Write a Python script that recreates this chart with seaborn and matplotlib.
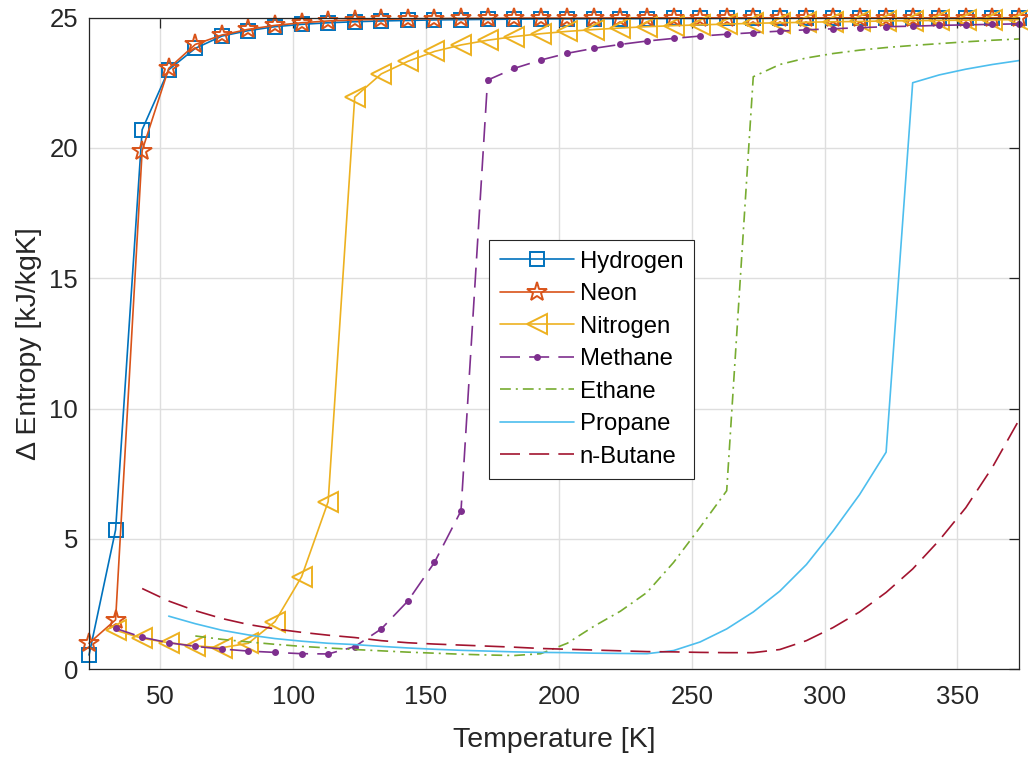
import matplotlib
matplotlib.use("Agg")
import matplotlib.pyplot as plt
import seaborn as sns

# ---------------- data ----------------
temperature = [23.15, 33.15, 43.15, 53.15, 63.15, 73.15, 83.15, 93.15, 103.15, 113.15,
               123.15, 133.15, 143.15, 153.15, 163.15, 173.15, 183.15, 193.15, 203.15, 213.15,
               223.15, 233.15, 243.15, 253.15, 263.15, 273.15, 283.15, 293.15, 303.15, 313.15,
               323.15, 333.15, 343.15, 353.15, 363.15, 373.15]

hydrogen = [0.55, 5.35, 20.7, 23.0, 23.82, 24.29, 24.5, 24.65, 24.74, 24.8,
            24.84, 24.87, 24.89, 24.91, 24.92, 24.93, 24.94, 24.95, 24.95, 24.96,
            24.96, 24.96, 24.97, 24.97, 24.97, 24.97, 24.98, 24.98, 24.98, 24.98,
            24.98, 24.98, 24.99, 24.99, 24.99, 24.99]
neon = [1.0, 1.9, 19.9, 23.05, 23.97, 24.33, 24.55, 24.7, 24.8, 24.87,
        24.91, 24.93, 24.95, 24.96, 24.97, 24.97, 24.98, 24.98, 24.98, 24.98,
        24.99, 24.99, 24.99, 24.99, 24.99, 24.99, 24.99, 24.99, 24.99, 24.99,
        24.99, 24.99, 24.99, 24.99, 24.99, 24.99]
nitrogen = [1.5, 1.19, 1.02, 0.9, 0.83, 1.0, 1.83, 3.55, 6.43,
            21.95, 22.84, 23.32, 23.7, 23.95, 24.13, 24.27, 24.38, 24.47, 24.54,
            24.6, 24.65, 24.69, 24.72, 24.75, 24.78, 24.8, 24.82, 24.84, 24.85,
            24.87, 24.88, 24.89, 24.9, 24.91, 24.92]
methane = [1.57, 1.23, 1.02, 0.88, 0.78, 0.70, 0.65, 0.6, 0.59,
           0.87, 1.55, 2.62, 4.1, 6.08,
           22.6, 23.05, 23.37, 23.63, 23.82, 23.97, 24.1, 24.2, 24.29, 24.36,
           24.42, 24.48, 24.53, 24.57, 24.61, 24.65, 24.67, 24.7, 24.72, 24.74, 24.76]
ethane = [1.28, 1.15, 1.05, 0.96, 0.88, 0.82, 0.76, 0.71, 0.66, 0.62,
          0.58, 0.55, 0.53, 0.6, 1.0, 1.65, 2.23, 2.95, 4.1, 5.45, 6.85,
          22.73, 23.2, 23.45, 23.62, 23.75, 23.85, 23.93, 24.0, 24.07, 24.13, 24.18]
propane = [2.04, 1.75, 1.5, 1.32, 1.18, 1.08, 1.0, 0.95, 0.88, 0.82,
           0.77, 0.73, 0.70, 0.67, 0.65, 0.64, 0.62, 0.61, 0.6,
           0.72, 1.05, 1.55, 2.2, 3.0, 4.02, 5.3, 6.7, 8.33,
           22.5, 22.8, 23.02, 23.2, 23.35]
butane = [3.1, 2.62, 2.25, 1.95, 1.72, 1.55, 1.42, 1.31, 1.22, 1.1,
          1.02, 0.97, 0.93, 0.89, 0.85, 0.8, 0.77, 0.74, 0.71, 0.68,
          0.67, 0.65, 0.64, 0.64, 0.76, 1.1, 1.6, 2.2, 2.95, 3.85,
          4.95, 6.2, 7.75, 9.56]

names = ["Hydrogen", "Neon", "Nitrogen", "Methane", "Ethane", "Propane", "n-Butane"]
x_ticks = [50, 100, 150, 200, 250, 300, 350]
y_ticks = [0, 5, 10, 15, 20, 25]

# ---------------- style ----------------
sns.set_style("white")
plt.rcParams["font.family"] = ["Liberation Sans", "DejaVu Sans"]
TXT = "#262626"

colors = ["#0072BD", "#D95319", "#EDB120", "#7E2F8E", "#77AC30", "#4DBEEE", "#A2142F"]
dash = (0, (12, 5.5))
dashdot = (0, (6.5, 3, 1.2, 3))
styles = [
    dict(linestyle="-", marker="s", markersize=9.5, markerfacecolor="none"),
    dict(linestyle="-", marker="*", markersize=15, markerfacecolor="none"),
    dict(linestyle="-", marker="<", markersize=14, markerfacecolor="none"),
    dict(linestyle=dash, marker="o", markersize=3.6),
    dict(linestyle=dashdot),
    dict(linestyle="-"),
    dict(linestyle=dash),
]
series = [hydrogen, neon, nitrogen, methane, ethane, propane, butane]

fig = plt.figure(figsize=(10.28, 7.57), dpi=100)
ax = fig.add_axes([0.0866, 0.1158, 0.9046, 0.861])

for name, vals, col, st in zip(names, series, colors, styles):
    xs = temperature[len(temperature) - len(vals):]
    kw = dict(st)
    if "marker" in kw:
        kw["markeredgecolor"] = col
        kw["markeredgewidth"] = 1.4
        if kw.get("markerfacecolor") != "none":
            kw["markerfacecolor"] = col
    sns.lineplot(x=xs, y=vals, ax=ax, color=col, linewidth=1.2, label=name,
                 sort=False, errorbar=None, clip_on=False, **kw)

ax.set_xlim(23.15, 373.15)
ax.set_ylim(0, 25)
ax.set_xticks(x_ticks)
ax.set_yticks(y_ticks)
ax.grid(True, color="#DEDEDE", linewidth=1.0)
ax.set_axisbelow(True)
for sp in ax.spines.values():
    sp.set_color(TXT)
    sp.set_linewidth(0.9)
    sp.set_visible(True)
ax.tick_params(axis="both", direction="in", length=7, width=0.9, color=TXT,
               labelcolor=TXT, labelsize=18.5, top=True, right=True)
ax.tick_params(axis="x", pad=11)
ax.tick_params(axis="y", pad=8)

ax.set_xlabel("Temperature [K]", fontsize=20.5, color=TXT, labelpad=13)
ax.set_ylabel("\u0394 Entropy [kJ/kgK]", fontsize=20.5, color=TXT, labelpad=5)

leg = ax.legend(loc="upper left", bbox_to_anchor=(0.430, 0.6587), frameon=True,
                fancybox=False, edgecolor="#262626", framealpha=1, borderpad=0.45,
                handlelength=3.1, handletextpad=0.25, labelspacing=0.44,
                fontsize=17.2, borderaxespad=0, numpoints=1)
leg.get_frame().set_linewidth(0.8)
leg.set_zorder(5)
for t in leg.get_texts():
    t.set_color("black")

fig.savefig("out.png", dpi=100)
